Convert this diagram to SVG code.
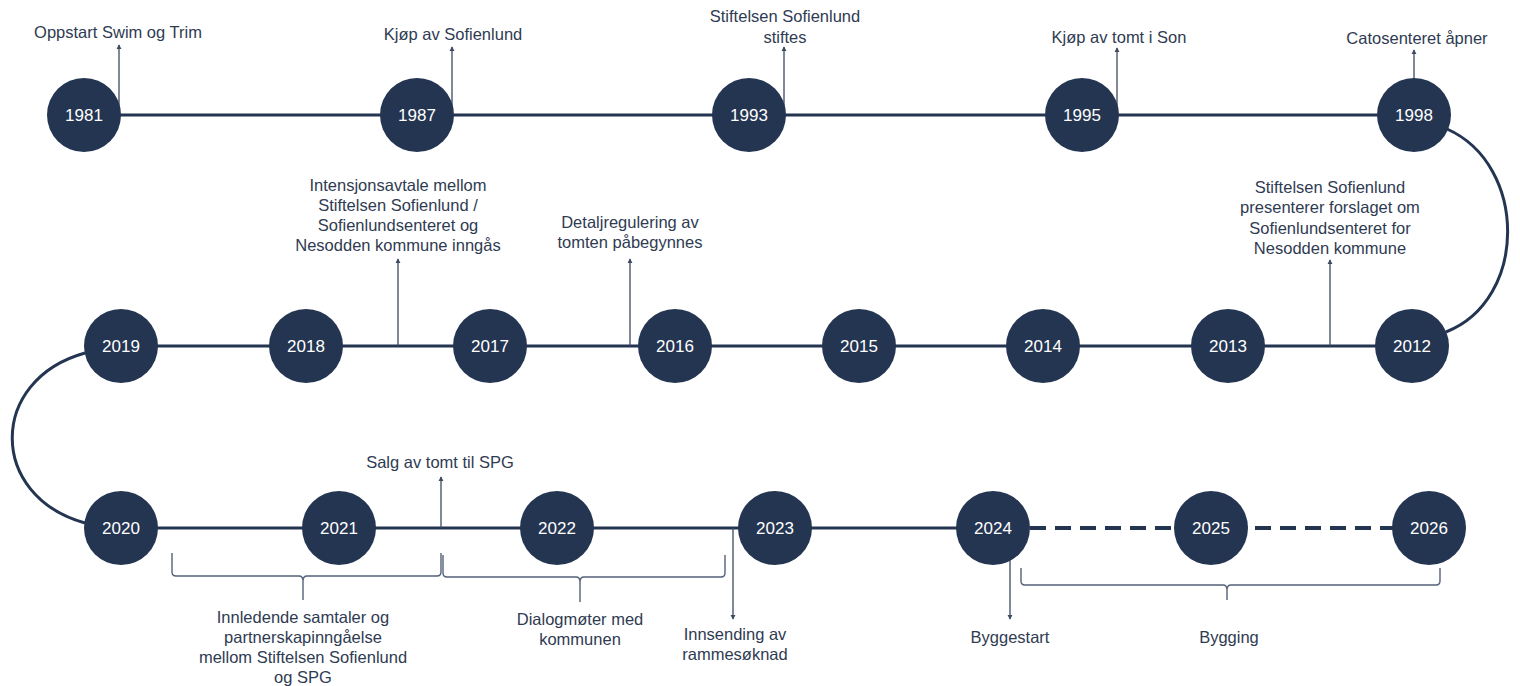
<svg xmlns="http://www.w3.org/2000/svg" width="1520" height="686" viewBox="0 0 1520 686">
<defs>
<style>
.node{fill:#243552}
.yr{font-family:"Liberation Sans",Arial,sans-serif;font-size:17px;fill:#ffffff;text-anchor:middle}
.lbl{font-family:"Liberation Sans",Arial,sans-serif;font-size:16.5px;fill:#2f3b52;text-anchor:middle}
.tl{fill:none;stroke:#243552;stroke-width:3}
.dash{fill:none;stroke:#243552;stroke-width:4;stroke-dasharray:16 9}
.con{fill:none;stroke:#3d4a60;stroke-width:1.3;marker-end:url(#ah)}
.brace{fill:none;stroke:#55627a;stroke-width:1.4}
</style>
<marker id="ah" viewBox="0 0 6 6" refX="5" refY="3" markerWidth="4" markerHeight="4" orient="auto">
<path d="M0,0 L6,3 L0,6 z" fill="#3d4a60"/>
</marker>
</defs>
<rect width="1520" height="686" fill="#ffffff"/>
<g id="connectors">
<line class="tl" x1="84" y1="115" x2="1414" y2="115"/>
<path class="tl" d="M1447,129 C1528,165 1528,300 1446,332"/>
<line class="tl" x1="121" y1="346" x2="1412" y2="346"/>
<path class="tl" d="M85,353 C-12,380 -12,496 85,523"/>
<line class="tl" x1="121" y1="528" x2="993" y2="528"/>
<line class="dash" x1="1030" y1="528" x2="1396" y2="528"/>
<line class="con" x1="119" y1="112" x2="119" y2="45"/>
<line class="con" x1="452" y1="112" x2="452" y2="47"/>
<line class="con" x1="784" y1="112" x2="784" y2="47"/>
<line class="con" x1="1117" y1="112" x2="1117" y2="48"/>
<line class="con" x1="1414" y1="80" x2="1414" y2="50"/>
<line class="con" x1="398" y1="346" x2="398" y2="259"/>
<line class="con" x1="630" y1="346" x2="630" y2="259"/>
<line class="con" x1="1330" y1="346" x2="1330" y2="260"/>
<line class="con" x1="441" y1="528" x2="441" y2="477"/>
<line class="con" x1="733" y1="528" x2="733" y2="619"/>
<line class="con" x1="1010" y1="555" x2="1010" y2="619"/>
</g>
<g id="braces">
<path class="brace" d="M172,553 L172,572 Q172,576 176,576 L299,576 Q303,576 303,581 L303,600 M303,581 Q303,576 307,576 L437,576 Q441,576 441,572 L441,553"/>
<path class="brace" d="M443,555 L443,573 Q443,577 447,577 L576,577 Q580,577 580,582 L580,602 M580,582 Q580,577 584,577 L721,577 Q725,577 725,573 L725,555"/>
<path class="brace" d="M1021,568 L1021,581 Q1021,585 1025,585 L1223,585 Q1227,585 1227,590 L1227,600 M1227,590 Q1227,585 1231,585 L1436,585 Q1440,585 1440,581 L1440,568"/>
</g>
<g id="n1981"><circle class="node" cx="84" cy="115" r="37"/><text class="yr" x="84" y="121">1981</text></g>
<g id="n1987"><circle class="node" cx="417" cy="115" r="37"/><text class="yr" x="417" y="121">1987</text></g>
<g id="n1993"><circle class="node" cx="749" cy="115" r="37"/><text class="yr" x="749" y="121">1993</text></g>
<g id="n1995"><circle class="node" cx="1082" cy="115" r="37"/><text class="yr" x="1082" y="121">1995</text></g>
<g id="n1998"><circle class="node" cx="1414" cy="115" r="37"/><text class="yr" x="1414" y="121">1998</text></g>
<g id="n2019"><circle class="node" cx="121" cy="346" r="37"/><text class="yr" x="121" y="352">2019</text></g>
<g id="n2018"><circle class="node" cx="306" cy="346" r="37"/><text class="yr" x="306" y="352">2018</text></g>
<g id="n2017"><circle class="node" cx="490" cy="346" r="37"/><text class="yr" x="490" y="352">2017</text></g>
<g id="n2016"><circle class="node" cx="675" cy="346" r="37"/><text class="yr" x="675" y="352">2016</text></g>
<g id="n2015"><circle class="node" cx="859" cy="346" r="37"/><text class="yr" x="859" y="352">2015</text></g>
<g id="n2014"><circle class="node" cx="1043" cy="346" r="37"/><text class="yr" x="1043" y="352">2014</text></g>
<g id="n2013"><circle class="node" cx="1228" cy="346" r="37"/><text class="yr" x="1228" y="352">2013</text></g>
<g id="n2012"><circle class="node" cx="1412" cy="346" r="37"/><text class="yr" x="1412" y="352">2012</text></g>
<g id="n2020"><circle class="node" cx="121" cy="528" r="37"/><text class="yr" x="121" y="534">2020</text></g>
<g id="n2021"><circle class="node" cx="339" cy="528" r="37"/><text class="yr" x="339" y="534">2021</text></g>
<g id="n2022"><circle class="node" cx="557" cy="528" r="37"/><text class="yr" x="557" y="534">2022</text></g>
<g id="n2023"><circle class="node" cx="775" cy="528" r="37"/><text class="yr" x="775" y="534">2023</text></g>
<g id="n2024"><circle class="node" cx="993" cy="528" r="37"/><text class="yr" x="993" y="534">2024</text></g>
<g id="n2025"><circle class="node" cx="1211" cy="528" r="37"/><text class="yr" x="1211" y="534">2025</text></g>
<g id="n2026"><circle class="node" cx="1429" cy="528" r="37"/><text class="yr" x="1429" y="534">2026</text></g>
<g id="labels">
<text class="lbl" x="118" y="38">Oppstart Swim og Trim</text>
<text class="lbl" x="453" y="40">Kjøp av Sofienlund</text>
<text class="lbl" x="785" y="22">Stiftelsen Sofienlund</text>
<text class="lbl" x="785" y="43">stiftes</text>
<text class="lbl" x="1119" y="43">Kjøp av tomt i Son</text>
<text class="lbl" x="1417" y="44">Catosenteret åpner</text>
<text class="lbl" x="398" y="191">Intensjonsavtale mellom</text>
<text class="lbl" x="398" y="211">Stiftelsen Sofienlund /</text>
<text class="lbl" x="398" y="231">Sofienlundsenteret og</text>
<text class="lbl" x="398" y="251">Nesodden kommune inngås</text>
<text class="lbl" x="630" y="228">Detaljregulering av</text>
<text class="lbl" x="630" y="248">tomten påbegynnes</text>
<text class="lbl" x="1330" y="193">Stiftelsen Sofienlund</text>
<text class="lbl" x="1330" y="213">presenterer forslaget om</text>
<text class="lbl" x="1330" y="234">Sofienlundsenteret for</text>
<text class="lbl" x="1330" y="254">Nesodden kommune</text>
<text class="lbl" x="440" y="468">Salg av tomt til SPG</text>
<text class="lbl" x="303" y="623">Innledende samtaler og</text>
<text class="lbl" x="303" y="643">partnerskapinngåelse</text>
<text class="lbl" x="303" y="663">mellom Stiftelsen Sofienlund</text>
<text class="lbl" x="303" y="683">og SPG</text>
<text class="lbl" x="580" y="625">Dialogmøter med</text>
<text class="lbl" x="580" y="645">kommunen</text>
<text class="lbl" x="735" y="640">Innsending av</text>
<text class="lbl" x="735" y="660">rammesøknad</text>
<text class="lbl" x="1010" y="643">Byggestart</text>
<text class="lbl" x="1229" y="643">Bygging</text>
</g>
</svg>
